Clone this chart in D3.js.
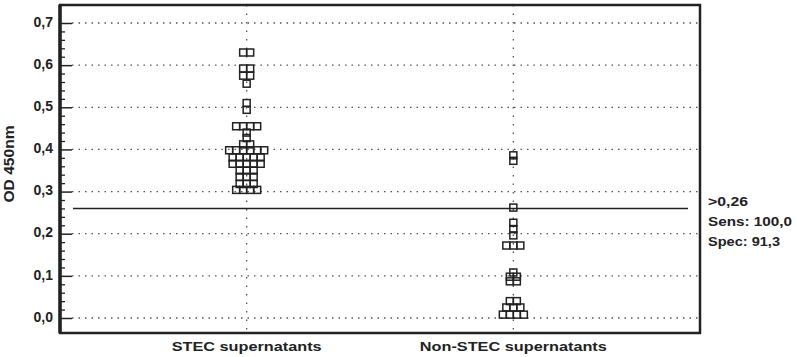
<!DOCTYPE html>
<html>
<head>
<meta charset="utf-8">
<script src="https://cdn.jsdelivr.net/npm/d3@7"></script>
<style>
  body { margin: 0; background: white; }
  text { font-family: "Liberation Sans", Arial, sans-serif; font-weight: bold; fill: #222; }
</style>
</head>
<body>
<div id="canvas"></div>
<script>
"use strict"
let svgWidth = 797;
let svgHeight = 357;

let frameLeft = 60;
let frameRight = 700;
let frameTop = 5;
let frameBottom = 333;

// OD 450nm readings
let categories = ["STEC supernatants", "Non-STEC supernatants"];
let stecValues = [0.630, 0.630, 0.592, 0.592, 0.575, 0.575, 0.556, 0.510, 0.494,
    0.455, 0.455, 0.455, 0.455, 0.440, 0.427, 0.412, 0.412,
    0.398, 0.398, 0.398, 0.398, 0.398, 0.398,
    0.381, 0.381, 0.381, 0.381, 0.381,
    0.366, 0.366, 0.366, 0.366, 0.366,
    0.350, 0.350, 0.350, 0.335, 0.335, 0.335,
    0.318, 0.318, 0.318, 0.304, 0.304, 0.304, 0.304];
let nonStecValues = [0.386, 0.373, 0.262, 0.226, 0.211, 0.196,
    0.172, 0.172, 0.172, 0.108, 0.098, 0.098, 0.087, 0.087,
    0.040, 0.040, 0.025, 0.025, 0.025, 0.008, 0.008, 0.008, 0.008];
let yTicks = [0, 0.1, 0.2, 0.3, 0.4, 0.5, 0.6, 0.7];
let cutoff = 0.26;
let cutoffLabels = [">0,26", "Sens: 100,0", "Spec: 91,3"];

let svg = d3.select("#canvas")
    .append("svg")
    .attr("width", svgWidth)
    .attr("height", svgHeight);

let xScale = d3.scalePoint()
    .domain(categories)
    .range([frameLeft, frameRight])
    .padding(0.7);

let yScale = d3.scaleLinear()
    .domain([0, 0.7])
    .range([318, 23]);

let commaFormat = function(v) { return d3.format(".1f")(v).replace(".", ","); };

// dotted grid
svg.selectAll(".hgrid")
    .data(yTicks)
    .join("line")
    .attr("x1", frameLeft + 12)
    .attr("x2", frameRight)
    .attr("y1", function(d) { return yScale(d); })
    .attr("y2", function(d) { return yScale(d); })
    .attr("stroke", "#555")
    .attr("stroke-width", 1.3)
    .attr("stroke-dasharray", "1.5,5");

svg.selectAll(".vgrid")
    .data(categories)
    .join("line")
    .attr("x1", function(d) { return xScale(d); })
    .attr("x2", function(d) { return xScale(d); })
    .attr("y1", frameTop)
    .attr("y2", frameBottom)
    .attr("stroke", "#555")
    .attr("stroke-width", 1.3)
    .attr("stroke-dasharray", "1.5,7");

// cutoff line
svg.append("line")
    .attr("x1", frameLeft + 13)
    .attr("x2", 688)
    .attr("y1", yScale(cutoff))
    .attr("y2", yScale(cutoff))
    .attr("stroke", "#222")
    .attr("stroke-width", 1.6);

// frame
svg.append("rect")
    .attr("x", frameLeft)
    .attr("y", frameTop)
    .attr("width", frameRight - frameLeft)
    .attr("height", frameBottom - frameTop)
    .attr("fill", "none")
    .attr("stroke", "#222")
    .attr("stroke-width", 2.5);

svg.append("line")
    .attr("x1", frameLeft)
    .attr("x2", frameLeft)
    .attr("y1", frameTop)
    .attr("y2", frameBottom)
    .attr("stroke", "#222")
    .attr("stroke-width", 3.5);

// y axis, ticks pointing into the plot
let yAxis = d3.axisRight(yScale)
    .tickValues(yTicks)
    .tickSize(12)
    .tickFormat("");
svg.append("g")
    .attr("transform", "translate(" + frameLeft + ",0)")
    .call(yAxis)
    .call(function(g) { g.select(".domain").remove(); })
    .selectAll("line")
    .attr("stroke", "#222")
    .attr("stroke-width", 1.5);

let minorTicks = d3.range(0, 0.7001, 0.02).filter(function(v) {
    return Math.abs(v * 10 - Math.round(v * 10)) > 0.01;
});
let yMinor = d3.axisRight(yScale)
    .tickValues(minorTicks)
    .tickSize(5)
    .tickFormat("");
svg.append("g")
    .attr("transform", "translate(" + frameLeft + ",0)")
    .call(yMinor)
    .call(function(g) { g.select(".domain").remove(); })
    .selectAll("line")
    .attr("stroke", "#222")
    .attr("stroke-width", 1.3);

for (let i = 0; i < yTicks.length; i++) {
    svg.append("text")
        .attr("x", 53)
        .attr("y", yScale(yTicks[i]))
        .attr("text-anchor", "end")
        .attr("dominant-baseline", "middle")
        .attr("font-size", 14)
        .text(commaFormat(yTicks[i]));
}

svg.append("text")
    .attr("transform", "rotate(-90)")
    .attr("x", -164)
    .attr("y", 10)
    .attr("text-anchor", "middle")
    .attr("dominant-baseline", "middle")
    .attr("font-size", 14)
    .attr("textLength", 77)
    .attr("lengthAdjust", "spacingAndGlyphs")
    .text("OD 450nm");

let labelWidths = [150, 187];
for (let i = 0; i < categories.length; i++) {
    svg.append("text")
        .attr("x", xScale(categories[i]) - labelWidths[i] / 2)
        .attr("y", 351)
        .attr("font-size", 12.5)
        .attr("textLength", labelWidths[i])
        .attr("lengthAdjust", "spacingAndGlyphs")
        .text(categories[i]);
}

let rightWidths = [40, 84, 72];
for (let i = 0; i < cutoffLabels.length; i++) {
    svg.append("text")
        .attr("x", 708)
        .attr("y", 206 + i * 20)
        .attr("font-size", 13)
        .attr("textLength", rightWidths[i])
        .attr("lengthAdjust", "spacingAndGlyphs")
        .text(cutoffLabels[i]);
}

// spread points that share (almost) the same value side by side
let squareSize = 7;
let points = [];
function layoutColumn(values, cat) {
    let sorted = values.slice().sort(function(a, b) { return b - a; });
    let groups = [];
    sorted.forEach(function(v) {
        let g = groups[groups.length - 1];
        if (g && g[0] - v < 0.009) {
            g.push(v);
        } else {
            groups.push([v]);
        }
    });
    groups.forEach(function(g) {
        g.forEach(function(v, i) {
            points.push({cat: cat, value: v, slot: i - (g.length - 1) / 2});
        });
    });
}
layoutColumn(stecValues, categories[0]);
layoutColumn(nonStecValues, categories[1]);

svg.selectAll(".pt")
    .data(points)
    .join("rect")
    .attr("class", "pt")
    .attr("x", function(d) { return xScale(d.cat) + d.slot * squareSize - squareSize / 2; })
    .attr("y", function(d) { return yScale(d.value) - squareSize / 2; })
    .attr("width", squareSize)
    .attr("height", squareSize)
    .attr("fill", "none")
    .attr("stroke", "#222")
    .attr("stroke-width", 1.5);
</script>
</body>
</html>
